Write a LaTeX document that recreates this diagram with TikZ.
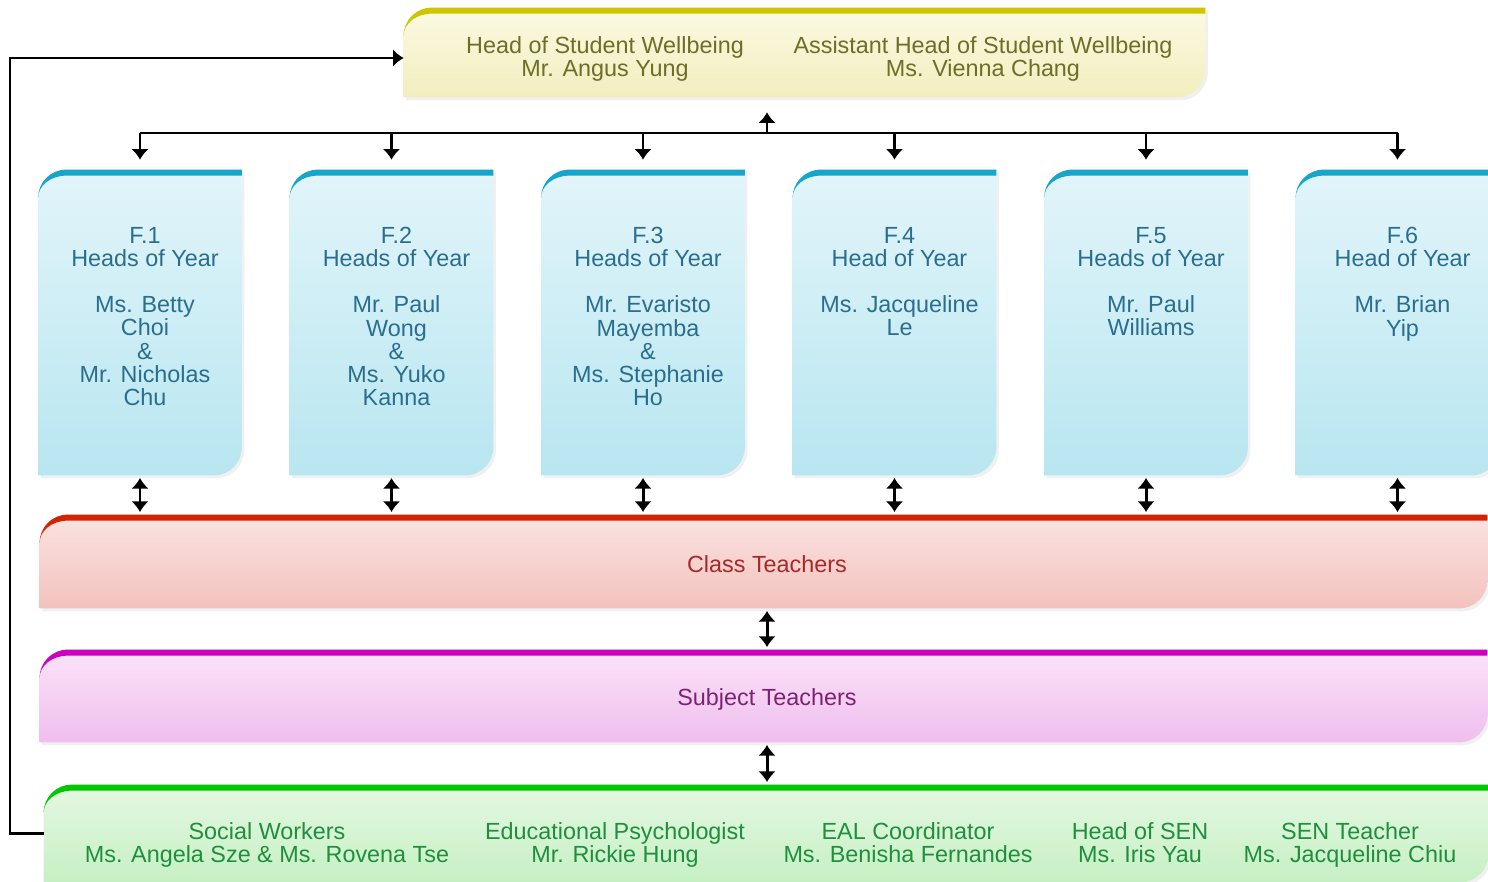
\documentclass[tikz,border=0pt]{standalone}
\usepackage{fontspec}
\setmainfont{Liberation Sans}
\usetikzlibrary{calc,shadows,arrows.meta}

\definecolor{headtop}{HTML}{FBFAE2}
\definecolor{headbot}{HTML}{F2EEBF}
\definecolor{headline}{HTML}{D0C300}
\definecolor{headtext}{HTML}{6E6E28}
\definecolor{yeartop}{HTML}{E2F5FA}
\definecolor{yearbot}{HTML}{B8E6F0}
\definecolor{yearline}{HTML}{16A6CC}
\definecolor{yeartext}{HTML}{2A6E8E}
\definecolor{classtop}{HTML}{FAE3E2}
\definecolor{classbot}{HTML}{F3C2BD}
\definecolor{classline}{HTML}{D42300}
\definecolor{classtext}{HTML}{A52A2A}
\definecolor{subjtop}{HTML}{FBE3F8}
\definecolor{subjbot}{HTML}{EFBEEE}
\definecolor{subjline}{HTML}{CC00BF}
\definecolor{subjtext}{HTML}{7D2272}
\definecolor{supptop}{HTML}{E5F8E3}
\definecolor{suppbot}{HTML}{C6F0C3}
\definecolor{suppline}{HTML}{00C800}
\definecolor{supptext}{HTML}{1E8F3E}

% box with rounded top left / bottom right corners and a coloured top stripe
% #1 = node, #2 = colour prefix
\newcommand{\tabbox}[2]{%
  \shade[top color=#2top, bottom color=#2bot,
    drop shadow={shadow xshift=0.05cm, shadow yshift=-0.06cm, fill=black, opacity=0.06}]
    (#1.south west) -- ($(#1.north west)+(0,-0.56)$)
    arc[start angle=180, end angle=90, radius=0.56cm] -- (#1.north east)
    -- ($(#1.south east)+(0,0.56)$)
    arc[start angle=0, end angle=-90, radius=0.56cm] -- cycle;
  \fill[#2line] ($(#1.north west)+(0,-0.56)$)
    arc[start angle=180, end angle=90, radius=0.56cm] -- (#1.north east)
    -- ++(0,-0.12) -- ($(#1.north west)+(0.56,-0.12)$)
    arc[start angle=90, end angle=180, x radius=0.56cm, y radius=0.44cm] -- cycle;
}

\begin{document}
\begin{tikzpicture}[>={Latex[length=6pt,width=10pt]},
  every node/.style={font=\fontsize{13.3}{13.2}\selectfont},
  panel/.style={rectangle, inner sep=0pt},
  boxtext/.style={align=center, inner sep=0pt},
  twoway/.style={<->, line width=1.7pt, shorten <=1.5pt, shorten >=1.5pt}]
\useasboundingbox (0,0) rectangle (29.76,-17.64);

% panels
\node[panel, minimum width=16.02cm, minimum height=1.78cm] (head) at (16.09,-1.05) {};
\foreach \i/\x in {1/2.8, 2/7.83, 3/12.86, 4/17.89, 5/22.92, 6/27.95}
  \node[panel, minimum width=4.06cm, minimum height=6.1cm] (y\i) at (\x,-6.45) {};
\node[panel, minimum width=28.94cm, minimum height=1.86cm] (class) at (15.27,-11.23) {};
\node[panel, minimum width=28.94cm, minimum height=1.84cm] (subject) at (15.27,-13.92) {};
\node[panel, minimum width=28.88cm, minimum height=1.94cm] (support) at (15.32,-16.67) {};

\tabbox{head}{head}
\foreach \i in {1,...,6} {\tabbox{y\i}{year}}
\tabbox{class}{class}
\tabbox{subject}{subj}
\tabbox{support}{supp}

% texts
\node[boxtext, text=headtext, anchor=north] (hsw) at (12.1,-0.72) {Head of Student Wellbeing\\Mr. Angus Yung};
\node[boxtext, text=headtext, anchor=north] (ahsw) at (19.66,-0.72) {Assistant Head of Student Wellbeing\\Ms. Vienna Chang};

\foreach \i/\txt in {
    1/{F.1\\Heads of Year\\[13.2pt]Ms. Betty\\Choi\\\&\\Mr. Nicholas\\Chu},
    2/{F.2\\Heads of Year\\[13.2pt]Mr. Paul\\Wong\\\&\\Ms. Yuko\\Kanna},
    3/{F.3\\Heads of Year\\[13.2pt]Mr. Evaristo\\Mayemba\\\&\\Ms. Stephanie\\Ho},
    4/{F.4\\Head of Year\\[13.2pt]Ms. Jacqueline\\Le},
    5/{F.5\\Heads of Year\\[13.2pt]Mr. Paul\\Williams},
    6/{F.6\\Head of Year\\[13.2pt]Mr. Brian\\Yip}}
  \node[boxtext, text=yeartext, anchor=north] (t\i) at ([xshift=0.1cm, yshift=-1.14cm]y\i.north) {\txt};

\node[boxtext, text=classtext] (ct) at (15.34,-11.28) {Class Teachers};
\node[boxtext, text=subjtext] (st) at (15.34,-13.99) {Subject Teachers};

\foreach \j/\x/\txt in {
    1/5.34/{Social Workers\\Ms. Angela Sze \& Ms. Rovena Tse},
    2/12.3/{Educational Psychologist\\Mr. Rickie Hung},
    3/18.16/{EAL Coordinator\\Ms. Benisha Fernandes},
    4/22.8/{Head of SEN\\Ms. Iris Yau},
    5/27.0/{SEN Teacher\\Ms. Jacqueline Chiu}}
  \node[boxtext, text=supptext, anchor=north] (s\j) at (\x,-16.44) {\txt};

% connectors
\coordinate (bus) at (15.34,-2.66);
\draw[->, line width=1.3pt, shorten >=0.3cm] (bus) -- (bus |- head.south);
\draw[line width=1.3pt] (bus -| y1) -- (bus -| y6);
\foreach \i in {1,...,6}
  \draw[->, line width=1.3pt, shorten >=0.2cm] (bus -| y\i) -- (y\i.north);
\foreach \i in {1,...,6}
  \draw[twoway] (y\i.south) -- (y\i.south |- class.north);
\draw[twoway] (bus |- class.south) -- (bus |- subject.north);
\draw[twoway] (bus |- subject.south) -- (bus |- support.north);
\draw[->, line width=1.2pt] (support.west) -- ++(-0.68,0) |- ([yshift=-0.11cm]head.west);
\end{tikzpicture}
\end{document}
